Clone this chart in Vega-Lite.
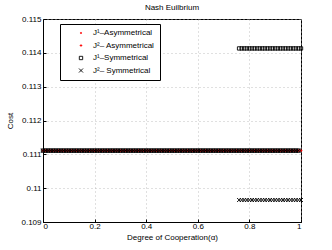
{
  "$schema": "https://vega.github.io/schema/vega-lite/v6.json",
  "width": 258,
  "height": 203,
  "autosize": {"type": "none"},
  "padding": {"left": 43, "top": 19, "right": 31, "bottom": 28},
  "background": "white",
  "config": {
    "font": "Liberation Sans",
    "view": {"stroke": "black", "strokeWidth": 1},
    "axis": {
      "labelFont": "Liberation Sans",
      "titleFont": "Liberation Sans",
      "labelFontSize": 8,
      "titleFontSize": 8,
      "titleFontWeight": "normal",
      "labelColor": "black",
      "titleColor": "black",
      "domainColor": "black",
      "tickColor": "black",
      "gridColor": "#b0b0b0",
      "gridDash": [1, 3],
      "gridWidth": 0.8
    }
  },
  "title": {"text": "Nash Euilbrium", "fontSize": 8, "fontWeight": "normal", "font": "Liberation Sans", "color": "black", "offset": 3},
  "data": {"values": [
    {"alpha":0.00,"a1":0.11111,"a2":0.11111,"s1":0.11111,"s2":0.11111},
    {"alpha":0.01,"a1":0.11111,"a2":0.11111,"s1":0.11111,"s2":0.11111},
    {"alpha":0.02,"a1":0.11111,"a2":0.11111,"s1":0.11111,"s2":0.11111},
    {"alpha":0.03,"a1":0.11111,"a2":0.11111,"s1":0.11111,"s2":0.11111},
    {"alpha":0.04,"a1":0.11111,"a2":0.11111,"s1":0.11111,"s2":0.11111},
    {"alpha":0.05,"a1":0.11111,"a2":0.11111,"s1":0.11111,"s2":0.11111},
    {"alpha":0.06,"a1":0.11111,"a2":0.11111,"s1":0.11111,"s2":0.11111},
    {"alpha":0.07,"a1":0.11111,"a2":0.11111,"s1":0.11111,"s2":0.11111},
    {"alpha":0.08,"a1":0.11111,"a2":0.11111,"s1":0.11111,"s2":0.11111},
    {"alpha":0.09,"a1":0.11111,"a2":0.11111,"s1":0.11111,"s2":0.11111},
    {"alpha":0.10,"a1":0.11111,"a2":0.11111,"s1":0.11111,"s2":0.11111},
    {"alpha":0.11,"a1":0.11111,"a2":0.11111,"s1":0.11111,"s2":0.11111},
    {"alpha":0.12,"a1":0.11111,"a2":0.11111,"s1":0.11111,"s2":0.11111},
    {"alpha":0.13,"a1":0.11111,"a2":0.11111,"s1":0.11111,"s2":0.11111},
    {"alpha":0.14,"a1":0.11111,"a2":0.11111,"s1":0.11111,"s2":0.11111},
    {"alpha":0.15,"a1":0.11111,"a2":0.11111,"s1":0.11111,"s2":0.11111},
    {"alpha":0.16,"a1":0.11111,"a2":0.11111,"s1":0.11111,"s2":0.11111},
    {"alpha":0.17,"a1":0.11111,"a2":0.11111,"s1":0.11111,"s2":0.11111},
    {"alpha":0.18,"a1":0.11111,"a2":0.11111,"s1":0.11111,"s2":0.11111},
    {"alpha":0.19,"a1":0.11111,"a2":0.11111,"s1":0.11111,"s2":0.11111},
    {"alpha":0.20,"a1":0.11111,"a2":0.11111,"s1":0.11111,"s2":0.11111},
    {"alpha":0.21,"a1":0.11111,"a2":0.11111,"s1":0.11111,"s2":0.11111},
    {"alpha":0.22,"a1":0.11111,"a2":0.11111,"s1":0.11111,"s2":0.11111},
    {"alpha":0.23,"a1":0.11111,"a2":0.11111,"s1":0.11111,"s2":0.11111},
    {"alpha":0.24,"a1":0.11111,"a2":0.11111,"s1":0.11111,"s2":0.11111},
    {"alpha":0.25,"a1":0.11111,"a2":0.11111,"s1":0.11111,"s2":0.11111},
    {"alpha":0.26,"a1":0.11111,"a2":0.11111,"s1":0.11111,"s2":0.11111},
    {"alpha":0.27,"a1":0.11111,"a2":0.11111,"s1":0.11111,"s2":0.11111},
    {"alpha":0.28,"a1":0.11111,"a2":0.11111,"s1":0.11111,"s2":0.11111},
    {"alpha":0.29,"a1":0.11111,"a2":0.11111,"s1":0.11111,"s2":0.11111},
    {"alpha":0.30,"a1":0.11111,"a2":0.11111,"s1":0.11111,"s2":0.11111},
    {"alpha":0.31,"a1":0.11111,"a2":0.11111,"s1":0.11111,"s2":0.11111},
    {"alpha":0.32,"a1":0.11111,"a2":0.11111,"s1":0.11111,"s2":0.11111},
    {"alpha":0.33,"a1":0.11111,"a2":0.11111,"s1":0.11111,"s2":0.11111},
    {"alpha":0.34,"a1":0.11111,"a2":0.11111,"s1":0.11111,"s2":0.11111},
    {"alpha":0.35,"a1":0.11111,"a2":0.11111,"s1":0.11111,"s2":0.11111},
    {"alpha":0.36,"a1":0.11111,"a2":0.11111,"s1":0.11111,"s2":0.11111},
    {"alpha":0.37,"a1":0.11111,"a2":0.11111,"s1":0.11111,"s2":0.11111},
    {"alpha":0.38,"a1":0.11111,"a2":0.11111,"s1":0.11111,"s2":0.11111},
    {"alpha":0.39,"a1":0.11111,"a2":0.11111,"s1":0.11111,"s2":0.11111},
    {"alpha":0.40,"a1":0.11111,"a2":0.11111,"s1":0.11111,"s2":0.11111},
    {"alpha":0.41,"a1":0.11111,"a2":0.11111,"s1":0.11111,"s2":0.11111},
    {"alpha":0.42,"a1":0.11111,"a2":0.11111,"s1":0.11111,"s2":0.11111},
    {"alpha":0.43,"a1":0.11111,"a2":0.11111,"s1":0.11111,"s2":0.11111},
    {"alpha":0.44,"a1":0.11111,"a2":0.11111,"s1":0.11111,"s2":0.11111},
    {"alpha":0.45,"a1":0.11111,"a2":0.11111,"s1":0.11111,"s2":0.11111},
    {"alpha":0.46,"a1":0.11111,"a2":0.11111,"s1":0.11111,"s2":0.11111},
    {"alpha":0.47,"a1":0.11111,"a2":0.11111,"s1":0.11111,"s2":0.11111},
    {"alpha":0.48,"a1":0.11111,"a2":0.11111,"s1":0.11111,"s2":0.11111},
    {"alpha":0.49,"a1":0.11111,"a2":0.11111,"s1":0.11111,"s2":0.11111},
    {"alpha":0.50,"a1":0.11111,"a2":0.11111,"s1":0.11111,"s2":0.11111},
    {"alpha":0.51,"a1":0.11111,"a2":0.11111,"s1":0.11111,"s2":0.11111},
    {"alpha":0.52,"a1":0.11111,"a2":0.11111,"s1":0.11111,"s2":0.11111},
    {"alpha":0.53,"a1":0.11111,"a2":0.11111,"s1":0.11111,"s2":0.11111},
    {"alpha":0.54,"a1":0.11111,"a2":0.11111,"s1":0.11111,"s2":0.11111},
    {"alpha":0.55,"a1":0.11111,"a2":0.11111,"s1":0.11111,"s2":0.11111},
    {"alpha":0.56,"a1":0.11111,"a2":0.11111,"s1":0.11111,"s2":0.11111},
    {"alpha":0.57,"a1":0.11111,"a2":0.11111,"s1":0.11111,"s2":0.11111},
    {"alpha":0.58,"a1":0.11111,"a2":0.11111,"s1":0.11111,"s2":0.11111},
    {"alpha":0.59,"a1":0.11111,"a2":0.11111,"s1":0.11111,"s2":0.11111},
    {"alpha":0.60,"a1":0.11111,"a2":0.11111,"s1":0.11111,"s2":0.11111},
    {"alpha":0.61,"a1":0.11111,"a2":0.11111,"s1":0.11111,"s2":0.11111},
    {"alpha":0.62,"a1":0.11111,"a2":0.11111,"s1":0.11111,"s2":0.11111},
    {"alpha":0.63,"a1":0.11111,"a2":0.11111,"s1":0.11111,"s2":0.11111},
    {"alpha":0.64,"a1":0.11111,"a2":0.11111,"s1":0.11111,"s2":0.11111},
    {"alpha":0.65,"a1":0.11111,"a2":0.11111,"s1":0.11111,"s2":0.11111},
    {"alpha":0.66,"a1":0.11111,"a2":0.11111,"s1":0.11111,"s2":0.11111},
    {"alpha":0.67,"a1":0.11111,"a2":0.11111,"s1":0.11111,"s2":0.11111},
    {"alpha":0.68,"a1":0.11111,"a2":0.11111,"s1":0.11111,"s2":0.11111},
    {"alpha":0.69,"a1":0.11111,"a2":0.11111,"s1":0.11111,"s2":0.11111},
    {"alpha":0.70,"a1":0.11111,"a2":0.11111,"s1":0.11111,"s2":0.11111},
    {"alpha":0.71,"a1":0.11111,"a2":0.11111,"s1":0.11111,"s2":0.11111},
    {"alpha":0.72,"a1":0.11111,"a2":0.11111,"s1":0.11111,"s2":0.11111},
    {"alpha":0.73,"a1":0.11111,"a2":0.11111,"s1":0.11111,"s2":0.11111},
    {"alpha":0.74,"a1":0.11111,"a2":0.11111,"s1":0.11111,"s2":0.11111},
    {"alpha":0.75,"a1":0.11111,"a2":0.11111,"s1":0.11111,"s2":0.11111},
    {"alpha":0.76,"a1":0.11111,"a2":0.11111,"s1":0.11413,"s2":0.10965},
    {"alpha":0.77,"a1":0.11111,"a2":0.11111,"s1":0.11413,"s2":0.10965},
    {"alpha":0.78,"a1":0.11111,"a2":0.11111,"s1":0.11413,"s2":0.10965},
    {"alpha":0.79,"a1":0.11111,"a2":0.11111,"s1":0.11413,"s2":0.10965},
    {"alpha":0.80,"a1":0.11111,"a2":0.11111,"s1":0.11413,"s2":0.10965},
    {"alpha":0.81,"a1":0.11111,"a2":0.11111,"s1":0.11413,"s2":0.10965},
    {"alpha":0.82,"a1":0.11111,"a2":0.11111,"s1":0.11413,"s2":0.10965},
    {"alpha":0.83,"a1":0.11111,"a2":0.11111,"s1":0.11413,"s2":0.10965},
    {"alpha":0.84,"a1":0.11111,"a2":0.11111,"s1":0.11413,"s2":0.10965},
    {"alpha":0.85,"a1":0.11111,"a2":0.11111,"s1":0.11413,"s2":0.10965},
    {"alpha":0.86,"a1":0.11111,"a2":0.11111,"s1":0.11413,"s2":0.10965},
    {"alpha":0.87,"a1":0.11111,"a2":0.11111,"s1":0.11413,"s2":0.10965},
    {"alpha":0.88,"a1":0.11111,"a2":0.11111,"s1":0.11413,"s2":0.10965},
    {"alpha":0.89,"a1":0.11111,"a2":0.11111,"s1":0.11413,"s2":0.10965},
    {"alpha":0.90,"a1":0.11111,"a2":0.11111,"s1":0.11413,"s2":0.10965},
    {"alpha":0.91,"a1":0.11111,"a2":0.11111,"s1":0.11413,"s2":0.10965},
    {"alpha":0.92,"a1":0.11111,"a2":0.11111,"s1":0.11413,"s2":0.10965},
    {"alpha":0.93,"a1":0.11111,"a2":0.11111,"s1":0.11413,"s2":0.10965},
    {"alpha":0.94,"a1":0.11111,"a2":0.11111,"s1":0.11413,"s2":0.10965},
    {"alpha":0.95,"a1":0.11111,"a2":0.11111,"s1":0.11413,"s2":0.10965},
    {"alpha":0.96,"a1":0.11111,"a2":0.11111,"s1":0.11413,"s2":0.10965},
    {"alpha":0.97,"a1":0.11111,"a2":0.11111,"s1":0.11413,"s2":0.10965},
    {"alpha":0.98,"a1":0.11111,"a2":0.11111,"s1":0.11413,"s2":0.10965},
    {"alpha":0.99,"a1":0.11111,"a2":0.11111,"s1":0.11413,"s2":0.10965},
    {"alpha":1.00,"a1":0.11111,"a2":0.11111,"s1":0.11413,"s2":0.10965},
    {"alpha":0.76,"s1":0.11111,"s2":0.11111},
    {"alpha":0.77,"s1":0.11111,"s2":0.11111},
    {"alpha":0.78,"s1":0.11111,"s2":0.11111},
    {"alpha":0.79,"s1":0.11111,"s2":0.11111},
    {"alpha":0.80,"s1":0.11111,"s2":0.11111},
    {"alpha":0.81,"s1":0.11111,"s2":0.11111},
    {"alpha":0.82,"s1":0.11111,"s2":0.11111},
    {"alpha":0.83,"s1":0.11111,"s2":0.11111},
    {"alpha":0.84,"s1":0.11111,"s2":0.11111},
    {"alpha":0.85,"s1":0.11111,"s2":0.11111},
    {"alpha":0.86,"s1":0.11111,"s2":0.11111},
    {"alpha":0.87,"s1":0.11111,"s2":0.11111},
    {"alpha":0.88,"s1":0.11111,"s2":0.11111},
    {"alpha":0.89,"s1":0.11111,"s2":0.11111},
    {"alpha":0.90,"s1":0.11111,"s2":0.11111},
    {"alpha":0.91,"s1":0.11111,"s2":0.11111},
    {"alpha":0.92,"s1":0.11111,"s2":0.11111},
    {"alpha":0.93,"s1":0.11111,"s2":0.11111},
    {"alpha":0.94,"s1":0.11111,"s2":0.11111},
    {"alpha":0.95,"s1":0.11111,"s2":0.11111},
    {"alpha":0.96,"s1":0.11111,"s2":0.11111},
    {"alpha":0.97,"s1":0.11111,"s2":0.11111},
    {"alpha":0.98,"s1":0.11111,"s2":0.11111},
    {"alpha":0.99,"s1":0.11111,"s2":0.11111}
  ]},
  "transform": [{"fold": ["a1", "a2", "s1", "s2"], "as": ["series", "cost"]}],
  "mark": {"type": "point", "filled": false, "strokeWidth": 0.9, "opacity": 1},
  "encoding": {
    "x": {
      "field": "alpha", "type": "quantitative",
      "scale": {"domain": [0, 1], "nice": false, "zero": false},
      "axis": {"values": [0, 0.2, 0.4, 0.6, 0.8, 1], "format": "~g", "title": "Degree of Cooperation(α)", "grid": true, "tickSize": -3, "labelPadding": 3, "titlePadding": 3}
    },
    "y": {
      "field": "cost", "type": "quantitative",
      "scale": {"domain": [0.109, 0.115], "nice": false, "zero": false},
      "axis": {"values": [0.109, 0.11, 0.111, 0.112, 0.113, 0.114, 0.115], "format": ".3~f", "title": "Cost", "grid": true, "tickSize": -3, "labelPadding": 5, "titlePadding": 6}
    },
    "order": {"field": "series"},
    "color": {
      "field": "series", "type": "nominal",
      "scale": {"domain": ["a1", "a2", "s1", "s2"], "range": ["#ff0000", "#ff0000", "#000000", "#000000"]},
      "legend": {
        "orient": "none", "legendX": 17, "legendY": 5, "title": null,
        "strokeColor": "black", "fillColor": "white", "padding": 5,
        "labelFont": "Liberation Sans", "labelFontSize": 8, "labelColor": "black",
        "rowPadding": 4.5, "labelOffset": 8, "symbolOffset": 12, "symbolStrokeWidth": 0.9,
        "labelExpr": "datum.value == 'a1' ? 'J¹–Asymmetrical' : datum.value == 'a2' ? 'J²– Asymmetrical' : datum.value == 's1' ? 'J¹–Symmetrical' : 'J²– Symmetrical'"
      }
    },
    "shape": {
      "field": "series", "type": "nominal",
      "scale": {"domain": ["a1", "a2", "s1", "s2"], "range": ["circle", "M0,-1V1M-1,0H1", "square", "M-1,-1L1,1M-1,1L1,-1"]}
    },
    "size": {
      "field": "series", "type": "nominal",
      "scale": {"domain": ["a1", "a2", "s1", "s2"], "range": [2, 16, 16, 10]}
    }
  }
}
